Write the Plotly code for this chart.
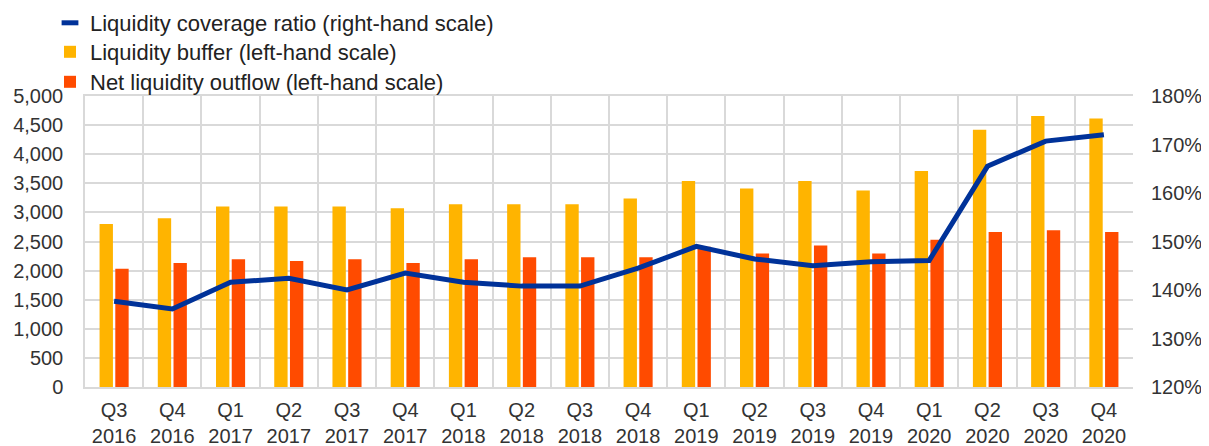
import plotly.graph_objects as go

quarters = ["Q3<br>2016", "Q4<br>2016", "Q1<br>2017", "Q2<br>2017", "Q3<br>2017", "Q4<br>2017",
            "Q1<br>2018", "Q2<br>2018", "Q3<br>2018", "Q4<br>2018", "Q1<br>2019", "Q2<br>2019",
            "Q3<br>2019", "Q4<br>2019", "Q1<br>2020", "Q2<br>2020", "Q3<br>2020", "Q4<br>2020"]
liquidity_buffer = [2800, 2900, 3100, 3100, 3100, 3070, 3140, 3140, 3140, 3240, 3540, 3410,
                    3540, 3375, 3710, 4420, 4655, 4615]
net_outflow = [2030, 2130, 2195, 2165, 2195, 2130, 2195, 2230, 2230, 2230, 2410, 2295,
               2430, 2295, 2530, 2665, 2695, 2665]
lcr = [137.7, 136.1, 141.6, 142.4, 140.0, 143.5, 141.6, 140.8, 140.8, 144.5, 149.0, 146.4,
       145.0, 145.8, 146.1, 165.5, 170.7, 172.0]

BLUE = "#003299"
YELLOW = "#FFB400"
RED = "#FF4B00"
FONT = "Liberation Sans, Arial, sans-serif"

# the page adds an 8px body margin, so the figure is sized/offset to compensate
W, H = 1201, 438
OFF = 8

fig = go.Figure()
fig.add_trace(go.Bar(x=quarters, y=liquidity_buffer, name="Liquidity buffer (left-hand scale)",
                     marker=dict(color=YELLOW, line=dict(width=0)), legend="legend2"))
fig.add_trace(go.Bar(x=quarters, y=net_outflow, name="Net liquidity outflow (left-hand scale)",
                     marker=dict(color=RED, line=dict(width=0)), legend="legend3"))
fig.add_trace(go.Scatter(x=quarters, y=lcr, yaxis="y2", mode="lines",
                         line=dict(color=BLUE, width=5), showlegend=False))
fig.add_trace(go.Scatter(x=[None], y=[None], yaxis="y2", mode="markers",
                         name="Liquidity coverage ratio (right-hand scale)",
                         marker=dict(symbol="line-ew", size=12, color=BLUE,
                                     line=dict(color=BLUE, width=6)),
                         legend="legend"))

leg = dict(font=dict(family=FONT, size=22, color="#222"), bgcolor="rgba(0,0,0,0)",
           xref="paper", yref="container", xanchor="left", yanchor="middle",
           x=-0.0334, itemclick=False, itemdoubleclick=False)

fig.update_layout(
    width=W, height=H,
    margin=dict(l=85 - OFF, r=76, t=96 - OFF, b=59, autoexpand=False),
    paper_bgcolor="white", plot_bgcolor="white",
    barmode="group", bargap=0.46, bargroupgap=0.15,
    font=dict(family=FONT, size=20, color="#333"),
    legend=dict(leg, y=1 - (23 - OFF) / H),
    legend2=dict(leg, y=1 - (52 - OFF) / H),
    legend3=dict(leg, y=1 - (82 - OFF) / H),
    xaxis=dict(type="category", tickson="boundaries", showgrid=True, gridcolor="#D9D9D9",
               gridwidth=1.5, showline=True, linecolor="#D9D9D9", linewidth=1.5, mirror=True,
               ticks="", tickfont=dict(size=20, color="#333"), ticklabelstandoff=4),
    yaxis=dict(range=[0, 5000], dtick=500, tickformat=",d", showgrid=True, gridcolor="#D9D9D9",
               gridwidth=1.5, showline=True, linecolor="#D9D9D9", linewidth=1.5,
               ticks="", tickfont=dict(size=20, color="#333"), ticklabelstandoff=16,
               zeroline=False),
    yaxis2=dict(range=[120, 180], dtick=10, ticksuffix="%", overlaying="y", side="right",
                showgrid=False, showline=False, ticks="", zeroline=False,
                tickfont=dict(size=20, color="#333"), ticklabelstandoff=17),
)

fig.write_html("out.html")
